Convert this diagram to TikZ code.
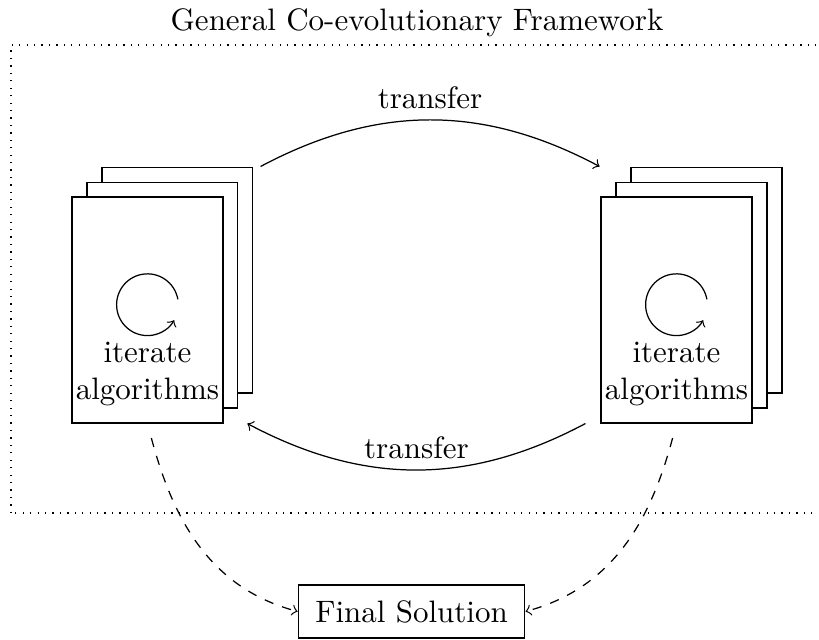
\documentclass[tikz,border=0pt]{standalone}
\usetikzlibrary{positioning}

\begin{document}
\begin{tikzpicture}[page/.style={draw,fill=white,minimum width=1.71cm,minimum height=2.56cm,inner sep=0pt},
    flow/.style={->},result/.style={->,dashed}]
    \useasboundingbox (0,0) rectangle (9.286,7.256);
    \node (title) at (4.728,7.0) {General Co-evolutionary Framework};
    \draw[dotted] (0.125,1.44) rectangle (9.40,6.746);
    % two stacks of pages, back to front
    \foreach \S/\X in {L/1.672,R/7.670}
     {\foreach \K in {2,1,0}
         \node[page] (\S-\K) at (\X+0.17*\K,3.741+0.17*\K) {};
      \draw[->] ([yshift=0.06cm]\S-0.center) ++(10:0.35) arc (10:330:0.35);
      \node[align=center] (\S-txt) at ([yshift=-0.725cm]\S-0.center) {iterate\\algorithms};}
    \draw[flow] ([xshift=0.08cm]L-2.north east) to[bend left=28] node[above] (T-1) {transfer} ([xshift=-0.35cm]R-2.north west);
    \draw[flow] ([xshift=-0.17cm]R-0.south west) to[bend left=28] node[above] (T-2) {transfer} ([xshift=0.27cm]L-0.south east);
    \node[draw,minimum width=2.57cm,minimum height=0.6cm] (final) at (4.666,0.323) {Final Solution};
    \draw[result,shorten <=0.17cm] (L-0.south) to[out=-75,in=165] (final.west);
    \draw[result,shorten <=0.17cm] (R-0.south) to[out=-105,in=15] (final.east);
\end{tikzpicture}
\end{document}
